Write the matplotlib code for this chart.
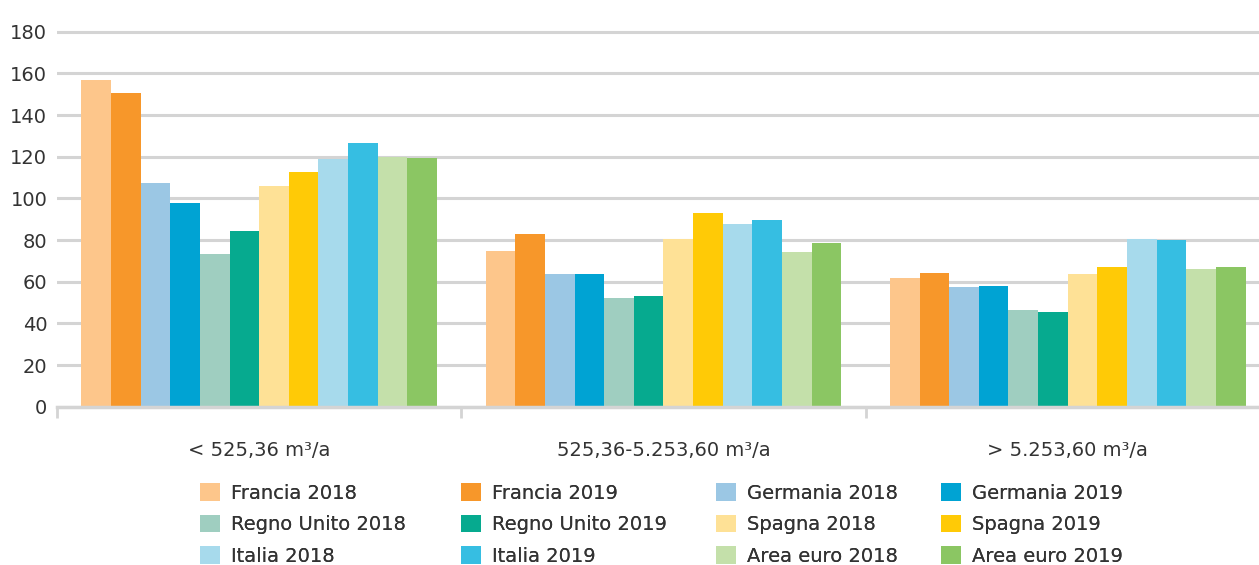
import numpy as np
import matplotlib
matplotlib.use("Agg")
import matplotlib.pyplot as plt
from matplotlib.patches import Patch

categories = ["< 525,36 m³/a", "525,36-5.253,60 m³/a", "> 5.253,60 m³/a"]

series = ["Francia 2018", "Francia 2019", "Germania 2018", "Germania 2019",
          "Regno Unito 2018", "Regno Unito 2019", "Spagna 2018", "Spagna 2019",
          "Italia 2018", "Italia 2019", "Area euro 2018", "Area euro 2019"]

francia_2018 = [157.0, 74.7, 61.8]
francia_2019 = [150.6, 82.9, 64.1]
germania_2018 = [107.4, 63.6, 57.6]
germania_2019 = [97.6, 63.6, 57.9]
regno_unito_2018 = [73.3, 52.2, 46.3]
regno_unito_2019 = [84.2, 53.1, 45.5]
spagna_2018 = [106.1, 80.5, 63.5]
spagna_2019 = [112.7, 93.0, 67.0]
italia_2018 = [118.9, 87.7, 80.4]
italia_2019 = [126.6, 89.8, 80.1]
area_euro_2018 = [120.0, 74.3, 66.0]
area_euro_2019 = [119.5, 78.4, 67.0]

values = [francia_2018, francia_2019, germania_2018, germania_2019,
          regno_unito_2018, regno_unito_2019, spagna_2018, spagna_2019,
          italia_2018, italia_2019, area_euro_2018, area_euro_2019]

colors = ["#FDC68B", "#F7972A", "#9BC7E4", "#00A3D3",
          "#9FCEC0", "#06AA8F", "#FEE196", "#FFCA06",
          "#A7DAEC", "#36BEE2", "#C4E0AA", "#8BC663"]

plt.rcParams['font.family'] = ['DejaVu Sans']
text_color = "#333333"
grid_color = "#d4d4d4"

fig = plt.figure(figsize=(12.59, 5.65), dpi=100)
ax = fig.add_axes([57 / 1259, 1 - 406.7 / 565, 1 - 57 / 1259, (406.7 - 27.6) / 565])

x = np.arange(len(categories))
w = 0.0733
n = len(series)
for i, (vals, col) in enumerate(zip(values, colors)):
    ax.bar(x + (i - (n - 1) / 2) * w, vals, width=w, color=col, linewidth=0, zorder=3)

ax.set_ylim(0, 182)
ax.set_xlim(-0.5, 2.473)
ax.set_yticks(range(0, 181, 20))
ax.yaxis.grid(True, color=grid_color, linewidth=2.2, zorder=0)
ax.tick_params(axis='y', length=0, labelsize=14, labelcolor=text_color, pad=7)

ax.set_xticks(x)
ax.set_xticklabels(categories)
ax.set_xticks([-0.5, 0.5, 1.5], minor=True)
ax.tick_params(axis='x', which='major', length=0, labelsize=14, labelcolor=text_color, pad=25)
ax.tick_params(axis='x', which='minor', length=8, width=2, color=grid_color)

for s in ["top", "right", "left"]:
    ax.spines[s].set_visible(False)
ax.spines["bottom"].set_color(grid_color)
ax.spines["bottom"].set_linewidth(2.5)
ax.spines["bottom"].set_zorder(4)

# legend: four columns, each placed at its own x
col_x = [200, 461, 716, 941]
for c, px in enumerate(col_x):
    idx = [c, c + 4, c + 8]
    handles = [Patch(facecolor=colors[k], edgecolor='none') for k in idx]
    labels = [series[k] for k in idx]
    leg = fig.legend(handles, labels, ncol=1, loc='upper left',
                     bbox_to_anchor=(px / 1259, 1 - 483 / 565), frameon=False,
                     fontsize=14, labelcolor=text_color, borderpad=0, borderaxespad=0,
                     handlelength=1.03, handleheight=1.03, handletextpad=0.58,
                     labelspacing=0.62)
    fig.add_artist(leg)

fig.savefig("out.png", dpi=100)
